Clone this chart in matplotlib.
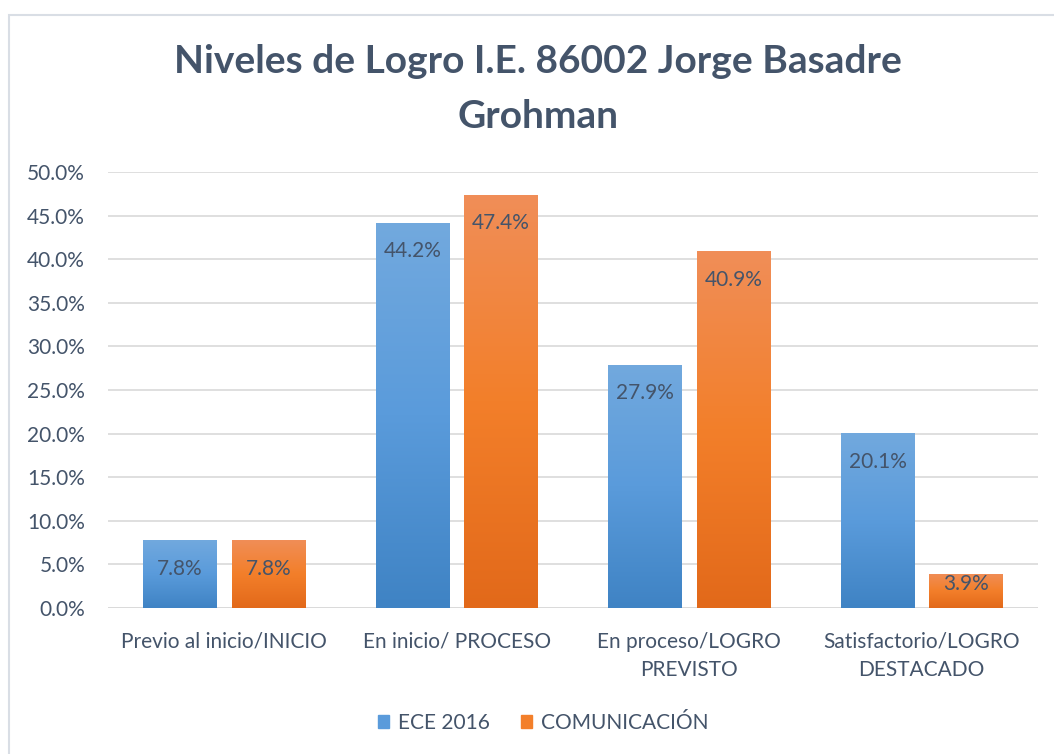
import matplotlib.pyplot as plt
import numpy as np
from matplotlib import rcParams
from matplotlib.colors import LinearSegmentedColormap
from matplotlib.patches import Rectangle
from matplotlib.ticker import FuncFormatter

rcParams['font.family'] = ['Lato', 'DejaVu Sans']

categorias = ['Previo al inicio/INICIO', 'En inicio/ PROCESO',
              'En proceso/LOGRO\nPREVISTO', 'Satisfactorio/LOGRO\nDESTACADO']
ece_2016 = [7.8, 44.2, 27.9, 20.1]
comunicacion = [7.8, 47.4, 40.9, 3.9]
series = ['ECE 2016', 'COMUNICACIÓN']
yticks = [0, 5, 10, 15, 20, 25, 30, 35, 40, 45, 50]

txt = '#44546A'
azul = LinearSegmentedColormap.from_list('azul', ['#3F83C4', '#5A9BDB', '#72A9DE'])
naranja = LinearSegmentedColormap.from_list('naranja', ['#E2691A', '#F37F2A', '#F08E58'])

fig = plt.figure(figsize=(10.54, 7.54), dpi=100)
ax = fig.add_axes([108 / 1054, 1 - 608 / 754, (1038 - 108) / 1054, (608 - 172) / 754])

x = np.arange(len(categorias))
w = 0.315
off = 0.19


def barras(xs, vals, cmap):
    grad = np.linspace(0, 1, 256).reshape(-1, 1)
    for xi, v in zip(xs, vals):
        r = Rectangle((xi - w / 2, 0), w, v, facecolor='none', edgecolor='none')
        ax.add_patch(r)
        im = ax.imshow(grad, cmap=cmap, origin='lower', aspect='auto',
                       extent=(xi - w / 2, xi + w / 2, 0, v), zorder=2)
        im.set_clip_path(r)
        # etiqueta dentro del extremo de la barra
        ax.text(xi, v - min(3.3, v - 2.8), '%.1f%%' % v, ha='center', va='center',
                color=txt, fontsize=15, zorder=3)


barras(x - off, ece_2016, azul)
barras(x + off, comunicacion, naranja)

ax.set_xlim(-0.5, 3.5)
ax.set_ylim(0, 50)
ax.set_yticks(yticks)
ax.yaxis.set_major_formatter(FuncFormatter(lambda v, p: '%.1f%%' % v))
ax.set_xticks(x)
ax.set_xticklabels(categorias, color=txt, fontsize=15, linespacing=1.5)
ax.tick_params(axis='y', colors=txt, labelsize=15, length=0, pad=16.5)
ax.tick_params(axis='x', colors=txt, length=0, pad=17)
for t in ax.get_xticklabels():
    t.set_verticalalignment('top')
ax.grid(axis='y', color='#D9D9D9', linewidth=1.2)
ax.set_axisbelow(True)
for s in ax.spines.values():
    s.set_visible(False)
ax.axhline(0, color='#D9D9D9', linewidth=1.2, zorder=1)

fig.text(538 / 1054, 1 - 89 / 754, 'Niveles de Logro I.E. 86002 Jorge Basadre\nGrohman',
         ha='center', va='center', fontsize=28, fontweight='bold', color=txt,
         linespacing=1.66)

# leyenda
handles = [Rectangle((0, 0), 1, 1, color='#5A9BDB'), Rectangle((0, 0), 1, 1, color='#F37F2A')]
fig.legend(handles, series, loc='center', bbox_to_anchor=(543 / 1054, 1 - 723 / 754),
           ncol=2, frameon=False, fontsize=15, labelcolor=txt,
           handlelength=0.55, handleheight=0.55, handletextpad=0.4, columnspacing=1.5)

# marco
fig.add_artist(Rectangle((8.5 / 1054, -0.1), 1.1, 1 - 15 / 754 + 0.1,
                         transform=fig.transFigure, fill=False,
                         edgecolor='#D9DEE5', linewidth=1.5))

fig.savefig('out.png', dpi=100)
